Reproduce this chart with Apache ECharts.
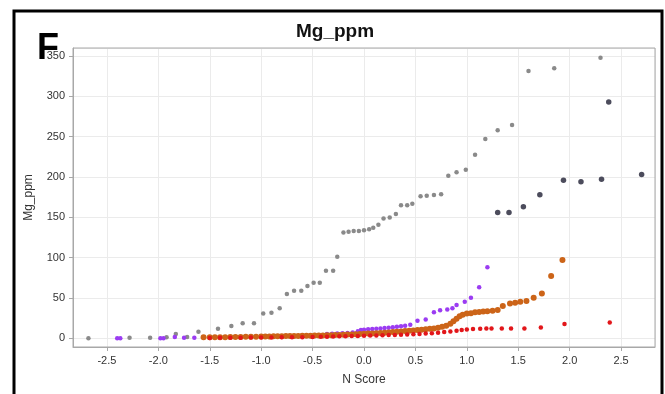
<!DOCTYPE html>
<html>
<head>
<meta charset="utf-8">
<script src="https://cdn.jsdelivr.net/npm/echarts@6/dist/echarts.min.js"></script>
<style>
  html, body { margin: 0; padding: 0; background: #fff; }
  #chart { width: 665px; height: 394px; }
</style>
</head>
<body>
<div id="chart"></div>
<script>
// N score / Mg_ppm pairs
const grayPts = [
  [-2.68, 0], [-2.28, 0.5], [-2.08, 0.5], [-1.92, 1], [-1.83, 5], [-1.72, 1.5], [-1.61, 8],
  [-1.42, 11.6], [-1.29, 15], [-1.18, 18.6], [-1.07, 18.6], [-0.98, 30.6], [-0.90, 31.5],
  [-0.82, 37], [-0.75, 54.7], [-0.68, 58.8], [-0.61, 58.8], [-0.55, 64.6], [-0.49, 68.8],
  [-0.43, 68.8], [-0.37, 83.6], [-0.30, 83.6], [-0.26, 101], [-0.20, 131], [-0.15, 132],
  [-0.10, 133], [-0.05, 133], [0.00, 134], [0.05, 135], [0.09, 137], [0.14, 140.6],
  [0.19, 148.5], [0.25, 149.8], [0.31, 154], [0.36, 165], [0.42, 165], [0.47, 166.6],
  [0.55, 176], [0.61, 176.8], [0.68, 177.7], [0.75, 178.4], [0.82, 201.5], [0.90, 205.7],
  [0.99, 209], [1.08, 227.5], [1.18, 247], [1.30, 258], [1.44, 264.5], [1.60, 331.5],
  [1.85, 335], [2.30, 348]
]

const darkPts = [
  [1.30, 156], [1.41, 156], [1.55, 163], [1.71, 178], [1.94, 196], [2.11, 194],
  [2.31, 197], [2.38, 293], [2.70, 203]
]

const purplePts = [
  [-2.40, 0], [-2.37, 0], [-1.98, 0], [-1.95, 0], [-1.84, 1.5], [-1.75, 0.5], [-1.65, 0.5],
  [-0.36, 5], [-0.31, 5.3], [-0.26, 5.6], [-0.21, 6], [-0.16, 6.5], [-0.11, 7], [-0.06, 8.5],
  [-0.03, 10], [0.00, 10.5], [0.04, 11], [0.08, 11.3], [0.12, 11.6], [0.16, 12], [0.20, 12.5],
  [0.24, 13], [0.28, 13.5], [0.32, 14], [0.36, 14.8], [0.40, 15.5], [0.45, 16.5], [0.52, 21.5],
  [0.60, 23], [0.68, 32], [0.74, 34.5], [0.81, 35.5], [0.86, 37], [0.90, 41], [0.98, 45],
  [1.04, 50], [1.12, 63], [1.20, 88]
]

const orangePts = [
  [-1.56, 1], [-1.50, 1], [-1.45, 1], [-1.40, 1], [-1.35, 1.2], [-1.30, 1.3], [-1.25, 1.4],
  [-1.20, 1.5], [-1.15, 1.6], [-1.10, 1.7], [-1.05, 1.8], [-1.00, 1.9], [-0.96, 2], [-0.92, 2.1],
  [-0.88, 2.2], [-0.84, 2.3], [-0.80, 2.4], [-0.76, 2.5], [-0.72, 2.6], [-0.68, 2.7], [-0.64, 2.8],
  [-0.60, 2.9], [-0.56, 3.0], [-0.52, 3.1], [-0.48, 3.2], [-0.44, 3.3], [-0.40, 3.4], [-0.36, 3.5],
  [-0.32, 3.6], [-0.28, 3.8], [-0.24, 4.0], [-0.20, 4.2], [-0.16, 4.4], [-0.12, 4.6], [-0.08, 4.8],
  [-0.04, 5.0], [0.00, 5.3], [0.04, 5.6], [0.08, 5.9], [0.12, 6.2], [0.16, 6.5], [0.20, 6.8],
  [0.24, 7.1], [0.28, 7.5], [0.32, 7.9], [0.36, 8.3], [0.40, 8.7], [0.44, 9.1], [0.48, 9.5],
  [0.52, 10], [0.56, 10.5], [0.60, 11], [0.64, 11.5], [0.68, 12], [0.72, 13], [0.76, 14],
  [0.80, 15.5], [0.84, 18], [0.87, 21], [0.90, 24], [0.93, 27], [0.96, 29], [1.00, 30.5],
  [1.04, 31], [1.08, 32], [1.12, 32.5], [1.16, 33], [1.20, 33.5], [1.25, 34], [1.30, 35],
  [1.35, 40], [1.42, 43], [1.47, 44], [1.52, 45], [1.58, 46], [1.65, 50], [1.73, 55.5],
  [1.82, 77], [1.93, 97]
]

const redPts = [
  [-1.50, 0.3], [-1.40, 0.4], [-1.30, 0.5], [-1.20, 0.6], [-1.10, 0.7], [-1.00, 0.8], [-0.90, 0.9],
  [-0.80, 1.0], [-0.70, 1.1], [-0.60, 1.2], [-0.50, 1.4], [-0.42, 1.6], [-0.36, 1.8], [-0.30, 2.0],
  [-0.24, 2.2], [-0.18, 2.4], [-0.12, 2.6], [-0.06, 2.8], [0.00, 3.0], [0.06, 3.2], [0.12, 3.4],
  [0.18, 3.6], [0.24, 3.8], [0.30, 4.0], [0.36, 4.3], [0.42, 4.6], [0.48, 4.9], [0.54, 5.2],
  [0.60, 5.6], [0.66, 6.2], [0.72, 6.8], [0.78, 7.5], [0.84, 8.3], [0.90, 9.2], [0.95, 10],
  [1.00, 10.8], [1.06, 11.2], [1.13, 11.6], [1.19, 12], [1.24, 12], [1.34, 12], [1.43, 12],
  [1.56, 12], [1.72, 13.3], [1.95, 17.4], [2.39, 19.5]
]

const colors = {
  gray: '#8a8a8a',
  dark: '#4c4c5c',
  purple: '#9b3cf2',
  orange: '#cc6418',
  red: '#e2161a',
  text: '#333',
  grid: '#ebebeb',
  axis: '#a8a8a8'
}

const chart = echarts.init(document.getElementById('chart'))

const makeSeries = (data, color, size) => ({
  type: 'scatter',
  data: data,
  symbol: 'circle',
  symbolSize: size,
  itemStyle: { color: color, opacity: 1 },
  silent: true
})

chart.setOption({
  animation: false,
  textStyle: { fontFamily: 'Liberation Sans, Arial, sans-serif' },
  title: {
    text: 'Mg_ppm',
    left: 330,
    textAlign: 'center',
    top: 17,
    textStyle: { fontSize: 19, fontWeight: 'bold', color: '#111' }
  },
  grid: { left: 73, right: 10, top: 48, bottom: 47 },
  xAxis: {
    type: 'value',
    min: -2.83,
    max: 2.83,
    splitNumber: 11,
    name: 'N Score',
    nameLocation: 'middle',
    nameGap: 27,
    nameTextStyle: { fontSize: 12, color: colors.text },
    axisLine: { show: true, onZero: false, lineStyle: { color: colors.axis } },
    axisTick: { show: true, length: 4, lineStyle: { color: colors.axis } },
    axisLabel: {
      color: colors.text,
      fontSize: 11,
      margin: 8,
      showMinLabel: false,
      showMaxLabel: false,
      formatter: v => v.toFixed(1)
    },
    splitLine: { show: true, lineStyle: { color: colors.grid } }
  },
  yAxis: {
    type: 'value',
    min: -11,
    max: 360,
    splitNumber: 7,
    name: 'Mg_ppm',
    nameLocation: 'middle',
    nameGap: 38,
    nameTextStyle: { fontSize: 12, color: colors.text },
    axisLine: { show: true, onZero: false, lineStyle: { color: colors.axis } },
    axisTick: { show: true, length: 4, lineStyle: { color: colors.axis } },
    axisLabel: {
      color: colors.text,
      fontSize: 11,
      margin: 8,
      showMinLabel: false,
      showMaxLabel: false
    },
    splitLine: { show: true, lineStyle: { color: colors.grid } }
  },
  graphic: [
    {
      type: 'rect',
      shape: { x: 14, y: 11, width: 648, height: 400 },
      style: { fill: null, stroke: '#000', lineWidth: 3 },
      z: 100
    },
    {
      type: 'rect',
      shape: { x: 73, y: 48, width: 582, height: 299 },
      style: { fill: null, stroke: colors.axis, lineWidth: 1 },
      z: 1
    },
    {
      type: 'text',
      left: 37,
      top: 31,
      style: { text: 'F', fontSize: 36, fontWeight: 'bold', fill: '#000', fontFamily: 'Liberation Sans, Arial, sans-serif' },
      z: 100
    }
  ],
  series: [
    makeSeries(grayPts, colors.gray, 4.5),
    makeSeries(darkPts, colors.dark, 5.5),
    makeSeries(purplePts, colors.purple, 4.5),
    makeSeries(orangePts, colors.orange, 6),
    makeSeries(redPts, colors.red, 4.5)
  ]
})
</script>
</body>
</html>
